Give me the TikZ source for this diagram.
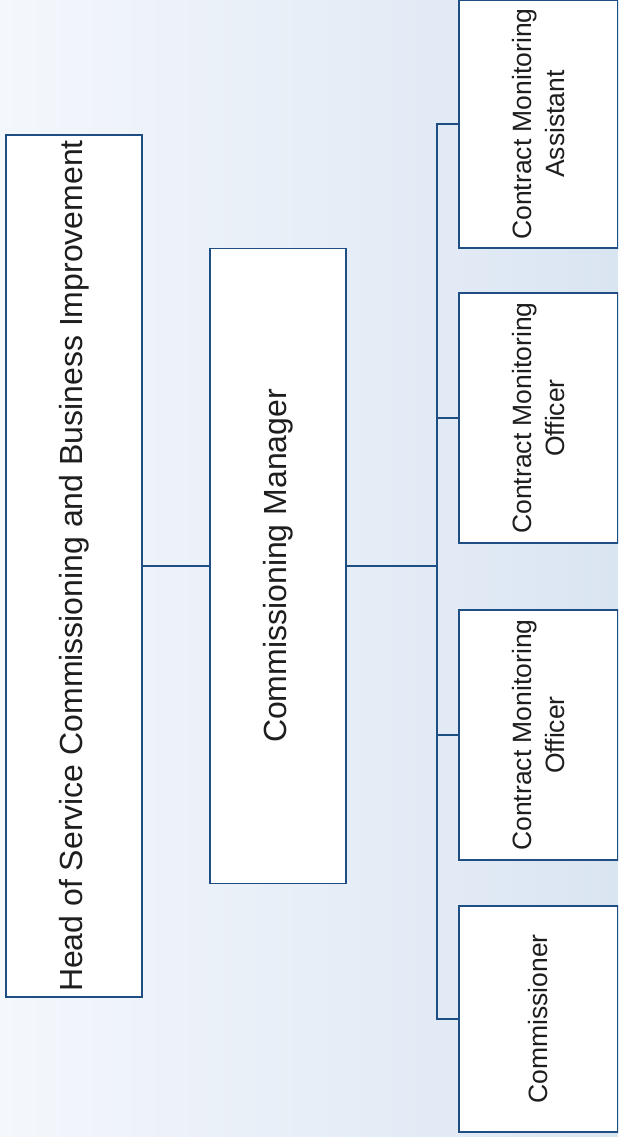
\documentclass[tikz,border=0pt]{standalone}
\usepackage{fontspec}
\setmainfont{Liberation Sans}
\begin{document}
\begin{tikzpicture}[x=1pt,y=-1pt,
  line join=miter,
  box/.style={draw=lineblue, line width=1.6pt, fill=white, rotate=90,
    inner sep=0pt, text=textgrey, align=center},
  link/.style={draw=lineblue, line width=1.6pt},
  big/.style={font=\fontsize{32}{38}\selectfont},
  small/.style={font=\fontsize{26.5}{33}\selectfont}]
  \definecolor{lineblue}{HTML}{1F4E85}
  \definecolor{textgrey}{HTML}{1E1E1E}
  \definecolor{bgleft}{HTML}{F4F7FC}
  \definecolor{bgright}{HTML}{DAE5F2}
  % background
  \useasboundingbox (0,0) rectangle (618,1137);
  \shade[left color=bgleft, right color=bgright] (0,0) rectangle (618,1137);
  \begin{scope}
  \clip (0,0) rectangle (618,1137);
  % top levels
  \node[box, big, minimum width=862pt, minimum height=136pt] (head) at (74,566)
    {Head of Service Commissioning and Business Improvement};
  \node[box, big, minimum width=635pt, minimum height=136pt] (cm) at (278,566)
    {Commissioning Manager};
  % team members
  \node[box, small, minimum width=248pt, minimum height=159pt] (c1) at (538.5,124)
    {Contract Monitoring\\Assistant};
  \node[box, small, minimum width=250pt, minimum height=159pt] (c2) at (538.5,418)
    {Contract Monitoring\\Officer};
  \node[box, small, minimum width=250pt, minimum height=159pt] (c3) at (538.5,735)
    {Contract Monitoring\\Officer};
  \node[box, small, minimum width=226pt, minimum height=159pt] (c4) at (538.5,1019)
    {Commissioner};
  \coordinate (bus) at (437,566);
  % connectors
  \draw[link] (head.south) -- (cm.north);
  \draw[link] (cm.south) -- (bus);
  \draw[link] (c1.north) -- (c1.north -| bus) -- (c4.north -| bus) -- (c4.north);
  \draw[link] (c2.north) -- (c2.north -| bus);
  \draw[link] (c3.north) -- (c3.north -| bus);
  \end{scope}
\end{tikzpicture}
\end{document}
